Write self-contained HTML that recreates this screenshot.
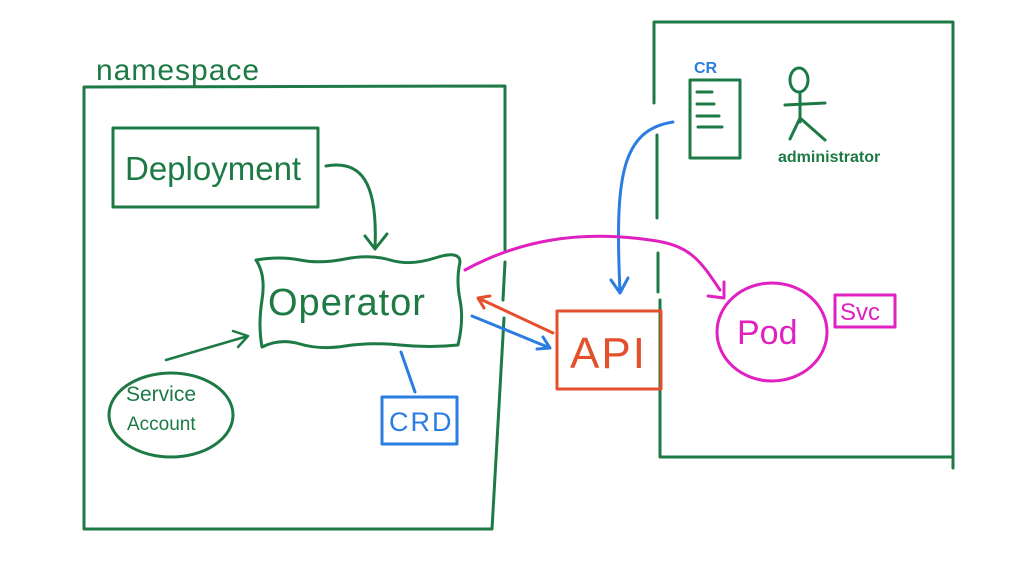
<!DOCTYPE html>
<html><head><style>
html,body{margin:0;padding:0;background:#fff;}
svg{display:block}
text{font-family:"Liberation Sans",sans-serif;}
</style></head><body>
<svg width="1024" height="578" viewBox="0 0 1024 578" xmlns="http://www.w3.org/2000/svg">
<g fill="none" stroke-linecap="round" stroke-linejoin="round">
<!-- namespace rect -->
<path d="M84 87 L505 86 L505 250 M505 262 L503 300 M504 318 L492 529 L84 529 L84 87" stroke="#1d7a45" stroke-width="3"/>
<!-- right rect -->
<path d="M654 103 L654 22 L953 22 L953 468 M953 457 L660 457 L660 300" stroke="#1d7a45" stroke-width="3"/>
<path d="M657 135 L657 218 M658 253 L658 292" stroke="#1d7a45" stroke-width="3"/>
<!-- Deployment -->
<rect x="113" y="128" width="205" height="79" stroke="#1d7a45" stroke-width="3"/>
<path d="M326 166 C360 160 378 180 375 248 M365 236 L375 249 L387 234" stroke="#1d7a45" stroke-width="3"/>
<!-- Operator wavy -->
<path d="M256 260 Q280 256 300 260 T345 259 T390 260 T435 258 T460 262 Q456 280 460 300 T458 345 Q430 348 400 345 T345 346 T300 344 T262 347 Q258 325 262 300 T256 260 Z" stroke="#1d7a45" stroke-width="3"/>
<!-- service account -->
<ellipse cx="171" cy="415" rx="62" ry="42" stroke="#1d7a45" stroke-width="3"/>
<path d="M166 360 L248 336 M233 331 L248 336 L238 347" stroke="#1d7a45" stroke-width="2.5"/>
<!-- CRD -->
<rect x="382" y="397" width="75" height="47" stroke="#2a7de1" stroke-width="3"/>
<path d="M401 352 L415 392" stroke="#2a7de1" stroke-width="3"/>
<!-- API -->
<rect x="557" y="311" width="104" height="78" stroke="#e4502c" stroke-width="3"/>
<path d="M553 333 L478 298 M490 296 L478 298 L484 308" stroke="#e4502c" stroke-width="3"/>
<path d="M472 316 L550 348 M537 349 L550 348 L543 337" stroke="#2a7de1" stroke-width="3"/>
<!-- CR doc -->
<rect x="690" y="80" width="50" height="78" stroke="#1d7a45" stroke-width="3"/>
<path d="M697 92 L712 92 M697 104 L714 104 M697 116 L719 116 M698 127 L722 127" stroke="#1d7a45" stroke-width="3"/>
<!-- stick figure -->
<ellipse cx="799" cy="80" rx="9" ry="12" stroke="#1d7a45" stroke-width="3"/>
<path d="M800 92 L800 122 M785 105 L825 103 M800 118 L790 139 M800 118 L825 140" stroke="#1d7a45" stroke-width="3"/>
<!-- blue CR arrow -->
<path d="M673 122 C620 130 615 180 620 292 M611 280 L620 293 L628 278" stroke="#2a7de1" stroke-width="3"/>
<!-- magenta arrow -->
<path d="M465 270 C520 240 580 230 650 240 C690 245 700 260 720 290 M708 296 L724 298 L724 282" stroke="#e020c0" stroke-width="3"/>
<!-- Pod -->
<ellipse cx="772" cy="332" rx="55" ry="49" stroke="#e020c0" stroke-width="3"/>
<rect x="835" y="295" width="60" height="32" stroke="#e020c0" stroke-width="3"/>
</g>
<g font-family="Liberation Sans, sans-serif">
<text x="96" y="80" font-size="30" fill="#1d7a45" letter-spacing="1">namespace</text>
<text x="125" y="180" font-size="33" fill="#1d7a45">Deployment</text>
<text x="268" y="315" font-size="38" fill="#1d7a45" letter-spacing="1">Operator</text>
<text x="126" y="401" font-size="21" fill="#1d7a45">Service</text>
<text x="127" y="430" font-size="19" fill="#1d7a45">Account</text>
<text x="389" y="431" font-size="27" fill="#2a7de1" letter-spacing="2">CRD</text>
<text x="570" y="368" font-size="44" fill="#e4502c" letter-spacing="2">API</text>
<text x="694" y="73" font-size="16" font-weight="bold" fill="#2a7de1">CR</text>
<text x="778" y="162" font-size="16" font-weight="bold" fill="#1d7a45">administrator</text>
<text x="737" y="344" font-size="34" fill="#e020c0">Pod</text>
<text x="840" y="320" font-size="24" fill="#e020c0">Svc</text>
</g>
</svg>
</body></html>
